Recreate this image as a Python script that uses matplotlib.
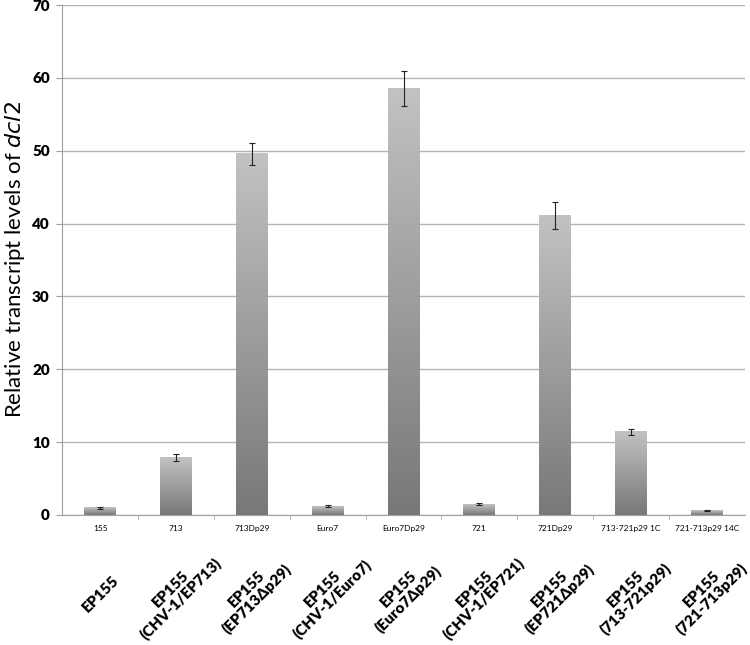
import numpy as np
import matplotlib.pyplot as plt
from matplotlib.colors import LinearSegmentedColormap

# data
strains = ['155', '713', '713Dp29', 'Euro7', 'Euro7Dp29', '721', '721Dp29',
           '713-721p29 1C', '721-713p29 14C']
groups = ['EP155', 'EP155\n(CHV-1/EP713)', 'EP155\n(EP713\u0394p29)',
          'EP155\n(CHV-1/Euro7)', 'EP155\n(Euro7\u0394p29)', 'EP155\n(CHV-1/EP721)',
          'EP155\n(EP721\u0394p29)', 'EP155\n(713-721p29)', 'EP155\n(721-713p29)']
values = [1.0, 7.9, 49.6, 1.2, 58.5, 1.5, 41.1, 11.4, 0.6]
errors = [0.15, 0.5, 1.5, 0.1, 2.4, 0.2, 1.8, 0.4, 0.1]

plt.rcParams['font.family'] = ['Lato', 'DejaVu Sans']

fig = plt.figure(figsize=(7.5, 6.45), dpi=100)
ax = fig.add_axes([0.083, 0.2016, 0.91, 0.7905])

gray = LinearSegmentedColormap.from_list('g', ['#787878', '#c2c2c2'])
grad = np.linspace(0, 1, 256).reshape(-1, 1)
x = np.arange(len(values))
w = 0.42
for xi, v in zip(x, values):
    ax.imshow(grad, cmap=gray, origin='lower', aspect='auto',
              extent=[xi - w / 2, xi + w / 2, 0, v], zorder=2)
ax.errorbar(x, values, yerr=errors, fmt='none', ecolor='#222222',
            elinewidth=0.8, capsize=2.5, capthick=0.8, zorder=3)

ax.set_xlim(-0.5, len(values) - 0.5)
ax.set_ylim(0, 70)
ax.set_yticks(range(0, 71, 10))
ax.yaxis.grid(True, color='#b4b4b4', linewidth=1)
ax.set_axisbelow(True)
for s in ['top', 'right']:
    ax.spines[s].set_visible(False)
for s in ['left', 'bottom']:
    ax.spines[s].set_color('#a0a0a0')

ax.set_xticks(x)
ax.set_xticklabels(strains, fontsize=6)
ax.set_xticks(np.arange(0.5, len(values) - 1, 1), minor=True)
ax.tick_params(axis='x', which='major', length=0, pad=7)
ax.tick_params(axis='x', which='minor', length=3, color='#a0a0a0')
ax.tick_params(axis='y', length=4, color='#a0a0a0', labelsize=11, pad=5)
for lab in ax.get_yticklabels():
    lab.set_fontweight('heavy')

fig.text(0.02, 0.5984, 'Relative transcript levels of $\\it{dcl2}$', fontsize=16,
         rotation=90, ha='center', va='center')

for xi, g in zip(x, groups):
    ax.annotate(g, xy=(xi, 0), xycoords=('data', 'axes fraction'),
                xytext=(0, -57), textcoords='offset points',
                rotation=45, rotation_mode='anchor', ha='center', va='center',
                multialignment='center', linespacing=1.0,
                fontsize=11, fontweight='heavy')

fig.savefig('out.png', dpi=100)
